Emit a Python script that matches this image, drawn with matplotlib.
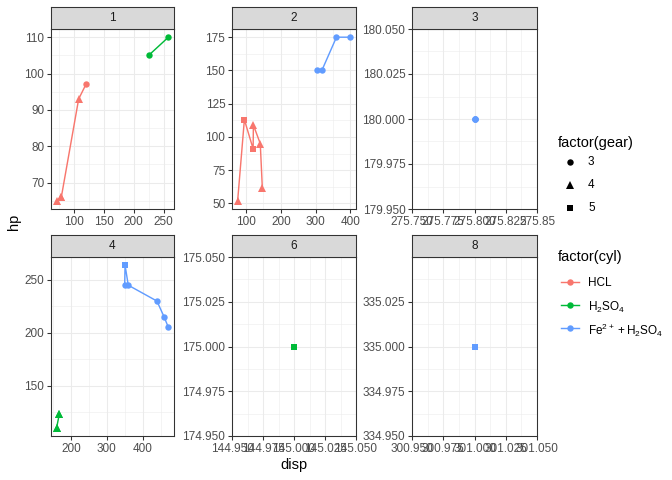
import matplotlib
matplotlib.use('Agg')
import matplotlib.pyplot as plt
from matplotlib.lines import Line2D
import numpy as np

plt.rcParams['font.family'] = ['Liberation Sans', 'DejaVu Sans']
plt.rcParams['mathtext.default'] = 'regular'

# mtcars
disp = [160, 160, 108, 258, 360, 225, 360, 146.7, 140.8, 167.6, 167.6, 275.8, 275.8, 275.8,
        472, 460, 440, 78.7, 75.7, 71.1, 120.1, 318, 304, 350, 400, 79, 120.3, 95.1, 351,
        145, 301, 121]
hp = [110, 110, 93, 110, 175, 105, 245, 62, 95, 123, 123, 180, 180, 180, 205, 215, 230,
      66, 52, 65, 97, 150, 150, 245, 175, 66, 91, 113, 264, 175, 335, 109]
cyl = [6, 6, 4, 6, 8, 6, 8, 4, 4, 6, 6, 8, 8, 8, 8, 8, 8, 4, 4, 4, 4, 8, 8, 8, 8, 4, 4, 4,
       8, 6, 8, 4]
gear = [4, 4, 4, 3, 3, 3, 3, 4, 4, 4, 4, 3, 3, 3, 3, 3, 3, 4, 4, 4, 3, 3, 3, 3, 3, 4, 5, 5,
        5, 5, 5, 4]
carb = [4, 4, 1, 1, 2, 1, 4, 2, 2, 4, 4, 3, 3, 3, 4, 4, 4, 1, 2, 1, 1, 2, 2, 4, 2, 1, 2, 2,
        4, 6, 8, 2]

carb_levels = [1, 2, 3, 4, 6, 8]
cyl_levels = [4, 6, 8]
cyl_labels = ['HCL', 'H$_2$SO$_4$', 'Fe$^{2+}$\u2009+\u2009H$_2$SO$_4$']
gear_levels = [3, 4, 5]

x_ticks = {
    1: [100, 150, 200, 250],
    2: [100, 200, 300, 400],
    3: [275.75, 275.775, 275.8, 275.825, 275.85],
    4: [200, 300, 400],
    6: [144.95, 144.975, 145.0, 145.025, 145.05],
    8: [300.95, 300.975, 301.0, 301.025, 301.05],
}
x_labels = {
    3: ['275.750', '275.775', '275.800', '275.825', '275.85'],
    6: ['144.950', '144.975', '145.000', '145.025', '145.050'],
    8: ['300.950', '300.975', '301.000', '301.025', '301.050'],
}
y_ticks = {
    1: [70, 80, 90, 100, 110],
    2: [50, 75, 100, 125, 150, 175],
    3: [179.95, 179.975, 180.0, 180.025, 180.05],
    4: [150, 200, 250],
    6: [174.95, 174.975, 175.0, 175.025, 175.05],
    8: [334.95, 334.975, 335.0, 335.025],
}
y_labels = {
    3: ['179.950', '179.975', '180.000', '180.025', '180.050'],
    6: ['174.950', '174.975', '175.000', '175.025', '175.050'],
    8: ['334.950', '334.975', '335.000', '335.025'],
}

colors = {4: '#F8766D', 6: '#00BA38', 8: '#619CFF'}
markers = {3: 'o', 4: '^', 5: 's'}
msize = {3: 4.8, 4: 5.3, 5: 4.4}

W, H = 672, 480
fig = plt.figure(figsize=(7, 5), dpi=96)

cols = [(51, 174), (232, 356), (412, 537)]
rows = [(7, 29, 209), (235, 257, 436)]


def limits(v):
    lo, hi = min(v), max(v)
    if hi - lo == 0:
        return lo - 0.05, hi + 0.05
    pad = (hi - lo) * 0.05
    return lo - pad, hi + pad


def minors(ticks, lo, hi):
    step = ticks[1] - ticks[0]
    m = [t + step / 2 for t in ticks] + [ticks[0] - step / 2]
    return [t for t in m if lo <= t <= hi]


def fx(px):
    return px / W


def fy(py):
    return 1 - py / H


disp = np.array(disp)
hp = np.array(hp)
cyl = np.array(cyl)
gear = np.array(gear)
carb = np.array(carb)

for i, c in enumerate(carb_levels):
    r, k = divmod(i, 3)
    x0, x1 = cols[k]
    st, sb, pb = rows[r]
    ax = fig.add_axes([fx(x0), fy(pb), (x1 - x0) / W, (pb - sb) / H])
    sax = fig.add_axes([fx(x0), fy(sb), (x1 - x0) / W, (sb - st) / H])
    sax.set_xticks([])
    sax.set_yticks([])
    sax.set_facecolor('#D9D9D9')
    for s in sax.spines.values():
        s.set_color('#333333')
        s.set_linewidth(0.8)
    sax.text(0.5, 0.5, str(c), ha='center', va='center', fontsize=8.8, color='#1A1A1A',
             transform=sax.transAxes)

    sel = carb == c
    xd, yd = disp[sel], hp[sel]
    xlo, xhi = limits(xd)
    ylo, yhi = limits(yd)
    ax.set_xlim(xlo, xhi)
    ax.set_ylim(ylo, yhi)

    xt, yt = x_ticks[c], y_ticks[c]
    ax.set_xticks(xt)
    ax.set_yticks(yt)
    if c in x_labels:
        ax.set_xticklabels(x_labels[c])
    if c in y_labels:
        ax.set_yticklabels(y_labels[c])
    ax.set_xticks(minors(xt, xlo, xhi), minor=True)
    ax.set_yticks(minors(yt, ylo, yhi), minor=True)
    ax.grid(True, which='major', color='#EBEBEB', linewidth=0.8)
    ax.grid(True, which='minor', color='#EBEBEB', linewidth=0.4)
    ax.set_axisbelow(True)
    ax.tick_params(which='minor', length=0)
    ax.tick_params(which='major', length=3, width=0.8, color='#333333',
                   labelsize=8.8, labelcolor='#4D4D4D', pad=2)
    for s in ax.spines.values():
        s.set_color('#333333')
        s.set_linewidth(0.8)

    for cy in cyl_levels:
        m = sel & (cyl == cy)
        if not m.any():
            continue
        order = np.argsort(disp[m], kind='stable')
        ax.plot(disp[m][order], hp[m][order], color=colors[cy], linewidth=1.07, zorder=2)
        for g in gear_levels:
            mm = m & (gear == g)
            if mm.any():
                ax.plot(disp[mm], hp[mm], linestyle='none', marker=markers[g],
                        markersize=msize[g], color=colors[cy], markeredgewidth=0, zorder=3)

fig.text(fx(294), fy(465), 'disp', ha='center', va='center', fontsize=11)
fig.text(fx(14), fy(222), 'hp', ha='center', va='center', fontsize=11, rotation=90)

# legends, drawn by hand in pixel positions
fig.text(fx(558), fy(143), 'factor(gear)', ha='left', va='center', fontsize=11)
for j, g in enumerate(gear_levels):
    yy = 162 + 23 * j
    fig.add_artist(Line2D([fx(570)], [fy(yy)], linestyle='none', marker=markers[g],
                          markersize=msize[g], color='black', markeredgewidth=0))
    fig.text(fx(588), fy(yy), str(g), ha='left', va='center', fontsize=8.8)

fig.text(fx(558), fy(257), 'factor(cyl)', ha='left', va='center', fontsize=11)
for j, cy in enumerate(cyl_levels):
    yy = 282 + 23 * j
    fig.add_artist(Line2D([fx(561), fx(579)], [fy(yy), fy(yy)], color=colors[cy],
                          linewidth=1.07))
    fig.add_artist(Line2D([fx(570)], [fy(yy)], linestyle='none', marker='o',
                          markersize=4.8, color=colors[cy], markeredgewidth=0))
    fig.text(fx(588), fy(yy), cyl_labels[j], ha='left', va='center_baseline', fontsize=8.8)

fig.savefig('out.png', dpi=96)
plt.close(fig)
